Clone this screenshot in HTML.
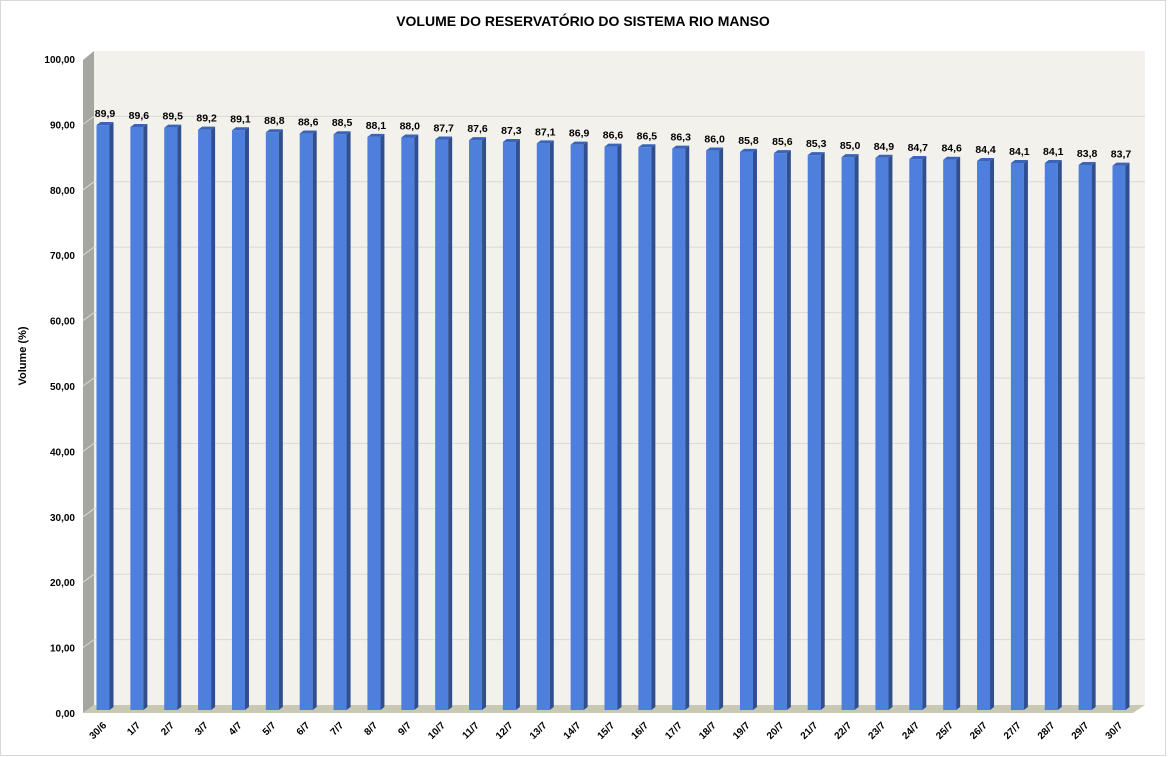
<!DOCTYPE html>
<html><head><meta charset="utf-8"><style>
body{margin:0;background:#fff;font-family:"Liberation Sans",Arial,sans-serif}
svg{display:block}
</style></head><body>
<svg id="chart" width="1168" height="757" viewBox="0 0 1168 757">
<rect x="0.5" y="0.5" width="1165" height="755" fill="#fff" stroke="#d9d9d9"/>
<text x="583" y="26" text-anchor="middle" font-size="14" font-weight="bold">VOLUME DO RESERVATÓRIO DO SISTEMA RIO MANSO</text>
<text transform="translate(26,356) rotate(-90)" text-anchor="middle" font-size="11" font-weight="bold">Volume (%)</text>
<polygon points="94,51 1145,51 1145,705 94,705" fill="#f2f1ec"/>
<polygon points="83,60 94,51 94,705 83,713" fill="#a6a6a0"/>
<polygon points="83,713 94,705 1145,705 1133,713" fill="#c8c8b4"/>
<g id="grid"></g><g id="yticks"></g><g id="bars"></g><g id="xlabels"></g>
</svg>
<script>
const categories=["30/6","1/7","2/7","3/7","4/7","5/7","6/7","7/7","8/7","9/7","10/7","11/7","12/7","13/7","14/7","15/7","16/7","17/7","18/7","19/7","20/7","21/7","22/7","23/7","24/7","25/7","26/7","27/7","28/7","29/7","30/7"];
const values=[89.9,89.6,89.5,89.2,89.1,88.8,88.6,88.5,88.1,88.0,87.7,87.6,87.3,87.1,86.9,86.6,86.5,86.3,86.0,85.8,85.6,85.3,85.0,84.9,84.7,84.6,84.4,84.1,84.1,83.8,83.7];
const yTicks=[0,10,20,30,40,50,60,70,80,90,100];
const NS="http://www.w3.org/2000/svg";
const y0=713,yTop=59,dx=11,dy=8;
function y(v){return y0-(v/100)*(y0-yTop);}
const x0=103,step=(1119-103)/(categories.length-1);
function x(i){return x0+i*step;}
function mk(t,a,p){const e=document.createElementNS(NS,t);for(const k in a)e.setAttribute(k,a[k]);p.appendChild(e);return e;}
const grid=document.getElementById('grid'),yt=document.getElementById('yticks');
yTicks.forEach(v=>{
  if(v>0&&v<100){
    const g=mk('polyline',{points:`83,${y(v)} 94,${y(v)-dy} 1145,${y(v)-dy}`,fill:'none',stroke:'#d9d9d9','stroke-width':1},grid);
    
    
  }
  const t=mk('text',{x:75,y:y(v)+4,'text-anchor':'end','font-size':10,'font-weight':'bold'},yt);
  t.textContent=v.toFixed(2).replace('.',',');
  
  
});
const bars=document.getElementById('bars'),xl=document.getElementById('xlabels');
const w=13,d=4,h=3;
values.forEach((v,i)=>{
  const cx=x(i),l=cx-w/2,r=cx+w/2,top=y(v),bot=y0-3;
  const g=mk('g',{},bars);
  
  
  mk('rect',{x:l,y:top,width:w,height:bot-top,fill:'#4f7fdc'},g);
  mk('polygon',{points:`${r},${top} ${r+d},${top-h} ${r+d},${bot-h} ${r},${bot}`,fill:'#2f4f8f'},g);
  mk('polygon',{points:`${l},${top} ${l+d},${top-h} ${r+d},${top-h} ${r},${top}`,fill:'#3a64b8'},g);
  const t=mk('text',{x:cx+2,y:top-8,'text-anchor':'middle','font-size':10.5,'font-weight':'bold'},g);
  t.textContent=v.toFixed(1).replace('.',',');
  
  
  const lb=mk('text',{transform:`translate(${cx+4},${726}) rotate(-45)`,'text-anchor':'end','font-size':10,'font-weight':'bold'},xl);
  lb.textContent=categories[i];
  
  
});
</script>
</body></html>
